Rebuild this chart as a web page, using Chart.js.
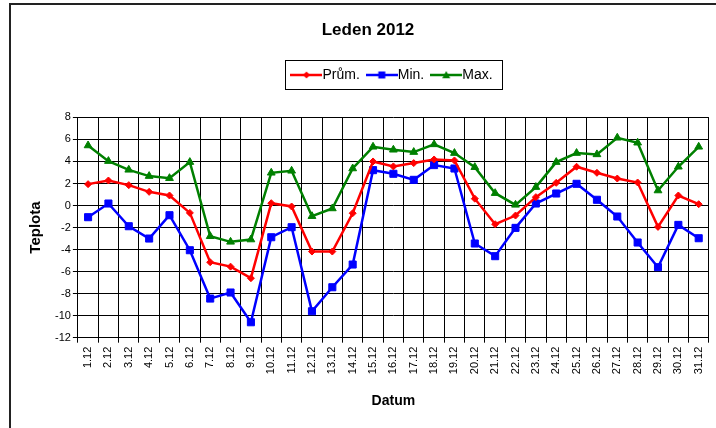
<!DOCTYPE html>
<html lang="cs">
<head>
  <meta charset="UTF-8">
  <title>Leden 2012</title>
  <script src="https://cdn.jsdelivr.net/npm/chart.js"></script>
  <style>
    html, body {
      margin: 0;
      padding: 0;
      background: #fff;
      overflow: hidden;
    }
    /* ramecek grafu (pravy a dolni okraj je mimo obrazek) */
    #ramecek {
      position: absolute;
      left: 9px;
      top: 3px;
      width: 800px;
      height: 500px;
      border: 2px solid #222;
    }
    #obal {
      position: absolute;
      left: 0;
      top: 0;
      width: 716px;
      height: 428px;
    }
  </style>
</head>
<body>
  <div id="ramecek"></div>
  <div id="obal">
    <canvas id="graf" width="716" height="428"></canvas>
  </div>
  <script>
    const dny = [
      "1.12", "2.12", "3.12", "4.12", "5.12", "6.12", "7.12", "8.12", "9.12", "10.12",
      "11.12", "12.12", "13.12", "14.12", "15.12", "16.12", "17.12", "18.12", "19.12", "20.12",
      "21.12", "22.12", "23.12", "24.12", "25.12", "26.12", "27.12", "28.12", "29.12", "30.12", "31.12"
    ];
    const prumer = [1.94, 2.27, 1.85, 1.24, 0.91, -0.67, -5.15, -5.55, -6.6, 0.21,
      -0.09, -4.18, -4.18, -0.7, 4.0, 3.55, 3.85, 4.18, 4.09, 0.62,
      -1.7, -0.91, 0.76, 2.06, 3.52, 2.97, 2.45, 2.09, -1.94, 0.91, 0.12];
    const minimum = [-1.06, 0.18, -1.88, -3.0, -0.88, -4.06, -8.45, -7.9, -10.6, -2.88,
      -1.97, -9.6, -7.42, -5.36, 3.21, 2.88, 2.33, 3.67, 3.36, -3.45,
      -4.6, -2.03, 0.18, 1.09, 1.97, 0.52, -1.0, -3.36, -5.6, -1.76, -2.97];
    const maximum = [5.45, 4.03, 3.24, 2.67, 2.48, 3.94, -2.79, -3.3, -3.09, 2.97,
      3.15, -0.97, -0.27, 3.36, 5.33, 5.06, 4.85, 5.55, 4.76, 3.48,
      1.12, 0.06, 1.67, 3.94, 4.76, 4.64, 6.15, 5.7, 1.36, 3.52, 5.33];
    const osaY = { min: -12, max: 8, krok: 2 };

    const pismo = "'Liberation Sans', Arial, sans-serif";

    // ikonky do legendy: cara se znackou uprostred
    function ikona(barva, tvar, r) {
      const c = document.createElement("canvas");
      c.width = 32;
      c.height = 12;
      const g = c.getContext("2d");
      g.strokeStyle = barva;
      g.fillStyle = barva;
      g.lineWidth = 2.5;
      g.beginPath();
      g.moveTo(0, 6);
      g.lineTo(32, 6);
      g.stroke();
      g.beginPath();
      if (tvar === "kosoctverec") {
        g.moveTo(16, 6 - r); g.lineTo(16 + r, 6); g.lineTo(16, 6 + r); g.lineTo(16 - r, 6);
      } else if (tvar === "ctverec") {
        g.rect(16 - r, 6 - r, 2 * r, 2 * r);
      } else {
        g.moveTo(16, 6 - r); g.lineTo(16 + r, 6 + r * 0.8); g.lineTo(16 - r, 6 + r * 0.8);
      }
      g.closePath();
      g.fill();
      return c;
    }
    const ikony = [
      ikona("#ff0000", "kosoctverec", 3.5),
      ikona("#0000ff", "ctverec", 3.5),
      ikona("#008000", "trojuhelnik", 4)
    ];

    // posun legendy a ramecek kolem ni
    const legendaPlugin = {
      id: "legendaPlugin",
      afterLayout(chart) {
        const lg = chart.legend;
        const dx = 27;
        const dy = 55 - lg.top;
        lg.left += dx; lg.right += dx;
        lg.top += dy; lg.bottom += dy;
      },
      afterDraw(chart) {
        const hb = chart.legend.legendHitBoxes;
        if (!hb || !hb.length) return;
        const ctx = chart.ctx;
        const x0 = Math.round(hb[0].left - 12) + 0.5;
        const last = hb[hb.length - 1];
        const x1 = Math.round(last.left + last.width + 9) + 0.5;
        const y0 = Math.round(hb[0].top - 8) + 0.5;
        const y1 = Math.round(hb[0].top + 21) + 0.5;
        ctx.save();
        ctx.strokeStyle = "#000";
        ctx.lineWidth = 1;
        ctx.strokeRect(x0, y0, x1 - x0, y1 - y0);
        ctx.restore();
      }
    };

    const ctx = document.getElementById("graf").getContext("2d");
    new Chart(ctx, {
      type: "line",
      data: {
        labels: dny,
        datasets: [
          {
            label: "Prům.",
            data: prumer,
            borderColor: "#ff0000",
            backgroundColor: "#ff0000",
            borderWidth: 2.5,
            pointStyle: "rectRot",
            pointRadius: 3.5,
            pointBorderWidth: 1,
            tension: 0
          },
          {
            label: "Min.",
            data: minimum,
            borderColor: "#0000ff",
            backgroundColor: "#0000ff",
            borderWidth: 2.5,
            pointStyle: "rect",
            pointRadius: 5,
            pointBorderWidth: 1,
            tension: 0
          },
          {
            label: "Max.",
            data: maximum,
            borderColor: "#008000",
            backgroundColor: "#008000",
            borderWidth: 2.5,
            pointStyle: "triangle",
            pointRadius: 4.5,
            pointBorderWidth: 1,
            tension: 0
          }
        ]
      },
      options: {
        responsive: false,
        animation: false,
        layout: { padding: { top: 4, left: 20, right: 0, bottom: 0 } },
        plugins: {
          title: {
            display: true,
            text: "Leden 2012",
            color: "#000",
            font: { family: pismo, size: 17, weight: "bold" },
            padding: { top: 16, bottom: 40 }
          },
          legend: {
            display: true,
            labels: {
              usePointStyle: true,
              pointStyleWidth: 18,
              boxHeight: 14,
              padding: 13,
              color: "#000",
              font: { family: pismo, size: 14 },
              generateLabels: chart => chart.data.datasets.map((ds, i) => ({
                text: ds.label,
                pointStyle: ikony[i],
                fillStyle: ds.borderColor,
                strokeStyle: ds.borderColor,
                lineWidth: 0,
                fontColor: "#000",
                hidden: false,
                datasetIndex: i
              }))
            }
          },
          tooltip: { enabled: false }
        },
        scales: {
          x: {
            offset: true,
            grid: {
              offset: true,
              color: "#000",
              lineWidth: 1,
              tickLength: 5
            },
            border: { color: "#000", width: 1 },
            ticks: {
              autoSkip: false,
              maxRotation: 90,
              minRotation: 90,
              padding: 4,
              color: "#000",
              font: { family: pismo, size: 11 }
            },
            title: {
              display: true,
              text: "Datum",
              color: "#000",
              font: { family: pismo, size: 14, weight: "bold" },
              padding: { top: 15, bottom: 18 }
            }
          },
          y: {
            min: osaY.min,
            max: osaY.max,
            grid: {
              color: "#000",
              lineWidth: 1,
              tickLength: 5
            },
            border: { color: "#000", width: 1 },
            ticks: {
              stepSize: osaY.krok,
              padding: 2,
              color: "#000",
              font: { family: pismo, size: 11 }
            },
            title: {
              display: true,
              text: "Teplota",
              color: "#000",
              font: { family: pismo, size: 15, weight: "bold" },
              padding: { top: 6.5, bottom: 8.5 }
            }
          }
        }
      },
      plugins: [legendaPlugin]
    });
  </script>
</body>
</html>
